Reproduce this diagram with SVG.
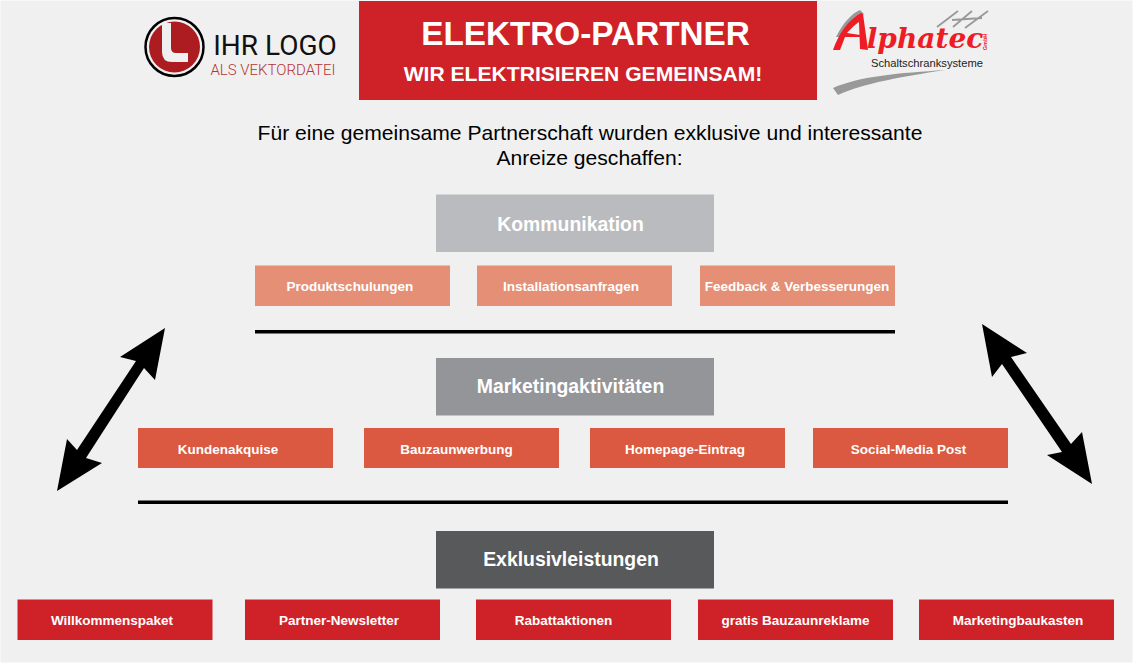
<svg xmlns="http://www.w3.org/2000/svg" width="1133" height="663" viewBox="0 0 1133 663">
<style>
text{font-family:"Liberation Sans",Arial,sans-serif;text-anchor:middle}
.b{fill:#fff;font-weight:700;font-size:13.5px}
.h{fill:#fff;font-weight:700;font-size:19.4px}
.r{fill:#cf2228}.o{fill:#da5940}.s{fill:#e48f76}
.a{fill:#000}
</style>
<rect width="1133" height="663" fill="#fff"/>
<rect x="0.500" y="0.500" width="1132" height="662" fill="#f0f0f0"/>
<g id="logo-left">
<circle cx="174.500" cy="47" r="29" fill="#f0f0f0" stroke="#000" stroke-width="2.500"/>
<circle cx="174.500" cy="47" r="25.500" fill="#ad1c20"/>
<path d="M162 23H171V48Q171 53 176 53H188V62H172Q162 62 162 52Z" fill="#f0f0f0"/>
<text x="275" y="55" style="font-family:Roboto,sans-serif;font-size:28px" fill="#111">IHR LOGO</text>
<text x="273" y="74.500" style="font-family:Roboto,sans-serif;font-size:15px;font-weight:300" fill="#b5352f">ALS VEKTORDATEI</text>
</g>
<g id="title">
<rect x="359" y="1" width="458" height="99" class="r"/>
<text x="585.500" y="45" style="font-weight:700;font-size:33.300px" fill="#fff">ELEKTRO-PARTNER</text>
<text x="583" y="81" style="font-weight:700;font-size:21.100px" fill="#fff">WIR ELEKTRISIEREN GEMEINSAM!</text>
</g>
<g id="logo-right">
<path d="M836 37C843 23 852 13 860 10L864 14C855 18 848 26 842 37Z" fill="#999"/>
<path d="M833 50C838 35 848 20 861 13L863 14L868 50L860 49L859 22C853 26 850 30 847 33L860 35V37L845 37L840 50Z" fill="#ee1c25"/>
<text x="925" y="48" style="font-family:'DejaVu Serif',serif;font-weight:700;font-style:italic;font-size:28px" fill="#ee1c25">lphatec</text>
<text x="987" y="42" transform="rotate(-90 987 42)" style="font-size:5.500px;font-weight:700" fill="#ee1c25">GmbH</text>
<text x="927" y="67" style="font-size:11.200px" fill="#222">Schaltschranksysteme</text>
<path d="M833 88C860 76 900 73 945 70C900 77 865 83 838 95Z" fill="#999"/>
<path d="M937 27L958 11M953 27L972 11M965 28L988 11M952 20L982 18" fill="none" stroke="#999" stroke-width="1.800"/>
</g>
<g id="intro">
<text x="590" y="140" style="font-size:21.100px" fill="#000">Für eine gemeinsame Partnerschaft wurden exklusive und interessante</text>
<text x="589.500" y="165" style="font-size:21.100px" fill="#000">Anreize geschaffen:</text>
</g>
<g id="kommunikation"><rect x="436" y="194.500" width="278" height="57.500" fill="#babbbe"/><text x="570.500" y="231" class="h">Kommunikation</text></g>
<g id="marketing"><rect x="436" y="358" width="278" height="57.500" fill="#939598"/><text x="570.500" y="393" class="h">Marketingaktivitäten</text></g>
<g id="exklusiv"><rect x="436" y="531" width="278" height="57.500" fill="#58595b"/><text x="571" y="566" class="h">Exklusivleistungen</text></g>
<g id="n1"><rect x="255" y="265.500" width="195" height="40.500" class="s"/><text x="350" y="291" class="b">Produktschulungen</text></g>
<g id="n2"><rect x="477" y="265.500" width="195" height="40.500" class="s"/><text x="571" y="291" class="b">Installationsanfragen</text></g>
<g id="n3"><rect x="700" y="265.500" width="195" height="40.500" class="s"/><text x="797" y="291" class="b">Feedback &amp; Verbesserungen</text></g>
<g id="n4"><rect x="138" y="428" width="195" height="40" class="o"/><text x="228" y="453.500" class="b">Kundenakquise</text></g>
<g id="n5"><rect x="364" y="428" width="195" height="40" class="o"/><text x="456.500" y="453.500" class="b">Bauzaunwerbung</text></g>
<g id="n6"><rect x="590" y="428" width="195" height="40" class="o"/><text x="685" y="453.500" class="b">Homepage-Eintrag</text></g>
<g id="n7"><rect x="813" y="428" width="195" height="40" class="o"/><text x="908.500" y="453.500" class="b">Social-Media Post</text></g>
<g id="n8"><rect x="17.500" y="599.500" width="195" height="40.500" class="r"/><text x="112" y="625" class="b">Willkommenspaket</text></g>
<g id="n9"><rect x="245" y="599.500" width="195" height="40.500" class="r"/><text x="339" y="625" class="b">Partner-Newsletter</text></g>
<g id="n10"><rect x="476" y="599.500" width="195" height="40.500" class="r"/><text x="563.500" y="625" class="b">Rabattaktionen</text></g>
<g id="n11"><rect x="698" y="599.500" width="195" height="40.500" class="r"/><text x="795.500" y="625" class="b">gratis Bauzaunreklame</text></g>
<g id="n12"><rect x="919" y="599.500" width="195" height="40.500" class="r"/><text x="1018" y="625" class="b">Marketingbaukasten</text></g>
<g id="connectors">
<rect x="255" y="330" width="640" height="3.500" fill="#000"/>
<rect x="138" y="500.500" width="870" height="3.500" fill="#000"/>
<path class="a" d="M165 328L155 380 144 368 86 458 102 463 57 491 67 439 77 450 136 361 120 357Z"/>
<path class="a" d="M982 324L1027 353 1011 357 1071 444 1082 432 1092 484 1047 455 1062 452 1002 364 992 377Z"/>
</g>
</svg>
